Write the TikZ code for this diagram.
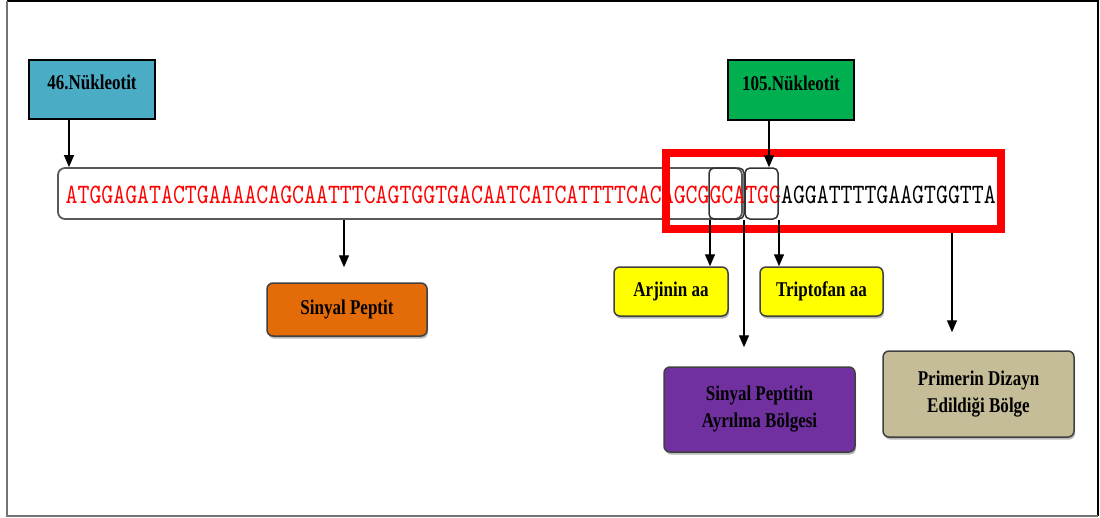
\documentclass[tikz,border=0pt]{standalone}
\usepackage{fontspec}
\setmainfont{Liberation Serif}
\usepackage{graphicx}
\usetikzlibrary{arrows.meta,shadows}
\definecolor{cteal}{HTML}{4BACC6}
\definecolor{cgreen}{HTML}{00B050}
\definecolor{corange}{HTML}{E36C09}
\definecolor{cyellow}{HTML}{FFFF00}
\definecolor{cpurple}{HTML}{7030A0}
\definecolor{ctan}{HTML}{C4BD97}
\newcommand\nar[1]{\scalebox{0.81}[1]{#1}}
\begin{document}
\begin{tikzpicture}[x=1pt,y=-1pt,
  lbl/.style={font=\fontsize{21}{27}\selectfont\bfseries, text=black, align=center},
  topbox/.style={draw=black, line width=1.2pt, rectangle, inner sep=0pt, lbl},
  rbox/.style={draw=black!75, line width=1.5pt, rounded corners=6pt, inner sep=0pt,
     drop shadow={shadow xshift=1pt, shadow yshift=-2.5pt, fill=black!55}, lbl},
  codon/.style={draw=black!80, line width=1.5pt, rounded corners=5pt, inner sep=0pt, minimum height=51pt},
  arr/.style={-{Triangle[width=10pt,length=12pt]}, line width=1.3pt}]
\useasboundingbox (0,0) rectangle (1100,517);
\draw[black, line width=2pt] (7,1) -- (1098,1) -- (1098,516);
\draw[black!55, line width=2pt] (7,1) -- (7,516) -- (1098,516);

% top markers
\node[topbox, fill=cteal, minimum width=126pt, minimum height=59pt, text height=14pt, text depth=14pt] (n46) at (92,89.5) {\nar{46.Nükleotit}};
\node[topbox, fill=cgreen, minimum width=126pt, minimum height=60pt, text height=14pt, text depth=14pt] (n105) at (791,90) {\nar{105.Nükleotit}};

% sequence
\node[draw=black!65, line width=1.8pt, rounded corners=7pt, minimum width=684pt, minimum height=51pt, inner sep=0pt, fill=white] (seqbox) at (400,193.5) {};
\node[anchor=base west, inner sep=0pt] (seq) at (65.5,203)
  {\resizebox{930pt}{17.5pt}{\ttfamily\textcolor{red}{ATGGAGATACTGAAAACAGCAATTTCAGTGGTGACAATCATCATTTTCACAGCGGCATGG}\textcolor{black}{AGGATTTTGAAGTGGTTA}}};
\node[codon, minimum width=35pt] (gca) at (726.5,193.5) {};
\node[codon, minimum width=33pt] (tgg) at (761.5,193.5) {};
\node[draw=red, line width=8pt, minimum width=335pt, minimum height=76pt, inner sep=0pt] (redbox) at (833.5,191) {};

% label boxes
\node[rbox, fill=corange, minimum width=160pt, minimum height=53pt] (sinyal) at (347,309.5) {\nar{Sinyal Peptit}};
\node[rbox, fill=cyellow, minimum width=114pt, minimum height=49pt] (arj) at (671,291.5) {\nar{Arjinin aa}};
\node[rbox, fill=cyellow, minimum width=123pt, minimum height=49pt] (trp) at (821.5,291.5) {\nar{Triptofan aa}};
\node[rbox, fill=cpurple, minimum width=191pt, minimum height=85pt] (ayr) at (759.5,409.5) {\nar{Sinyal Peptitin}\\\nar{Ayrılma Bölgesi}};
\node[rbox, fill=ctan, minimum width=191pt, minimum height=86pt] (prim) at (978.5,394) {\nar{Primerin Dizayn}\\\nar{Edildiği Bölge}};

% connectors
\draw[arr] (69,0 |- n46.south) -- (69,0 |- seqbox.north);
\draw[arr] (769,0 |- n105.south) -- (769,0 |- tgg.north);
\draw[arr, shorten >=15pt] (344,0 |- seqbox.south) -- (344,0 |- sinyal.north);
\draw[arr] (710,0 |- gca.south) -- (710,0 |- arj.north);
\draw[arr] (779,0 |- tgg.south) -- (779,0 |- trp.north);
\draw[arr, shorten >=19pt] (744,0 |- tgg.south) -- (744,0 |- ayr.north);
\draw[arr, shorten >=18pt] (952,0 |- redbox.south) -- (952,0 |- prim.north);
\end{tikzpicture}
\end{document}
